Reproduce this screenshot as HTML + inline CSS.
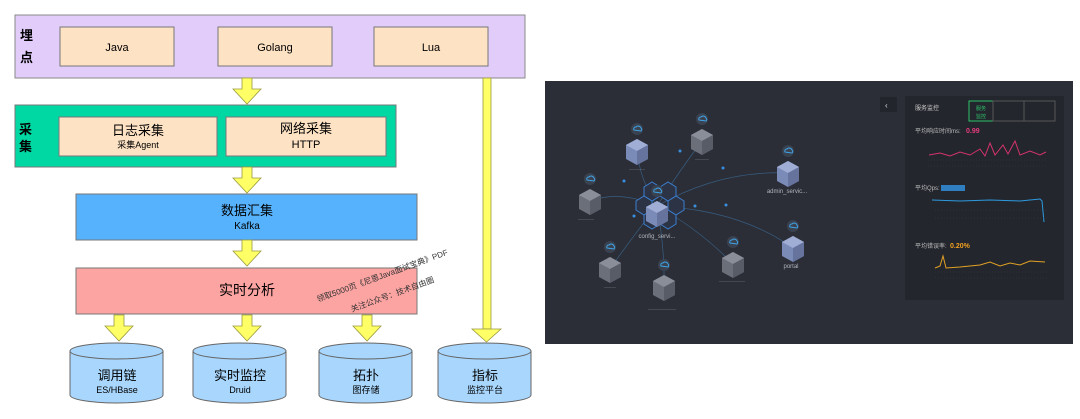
<!DOCTYPE html>
<html><head><meta charset="utf-8"><style>
body{margin:0;width:1080px;height:414px;background:#fff;overflow:hidden;font-family:"Liberation Sans","Noto Sans CJK SC",sans-serif;}
</style></head><body>
<svg width="1080" height="414" xmlns="http://www.w3.org/2000/svg" font-family="Liberation Sans, Noto Sans CJK SC, sans-serif">
<defs>
<g id="arr"><polygon points="-5,0 5,0 5,11 14,11 0,26 -14,11 -5,11" fill="#ffff66" stroke="#9a9a40" stroke-width="0.8"/></g>
<g id="cube"><polygon points="0,-12 11,-6 11,8 0,14 -11,8 -11,-6" fill="#6b6f7a"/><polygon points="0,-12 11,-6 0,0 -11,-6" fill="#8a8e99"/><polygon points="0,0 11,-6 11,8 0,14" fill="#585c66"/><circle cx="0" cy="-22" r="6" fill="#3a4250"/><path d="M-3,-21 a2,2 0 0 1 2,-3 a3,3 0 0 1 5,1 a2,2 0 0 1 0,3 z" fill="none" stroke="#3fa3e6" stroke-width="1"/></g>
<g id="bcube"><polygon points="0,-12 11,-6 11,8 0,14 -11,8 -11,-6" fill="#7b8bb8"/><polygon points="0,-12 11,-6 0,0 -11,-6" fill="#a0aed6"/><polygon points="0,0 11,-6 11,8 0,14" fill="#66739c"/><circle cx="0" cy="-22" r="6" fill="#3a4250"/><path d="M-3,-21 a2,2 0 0 1 2,-3 a3,3 0 0 1 5,1 a2,2 0 0 1 0,3 z" fill="none" stroke="#3fa3e6" stroke-width="1"/></g>
</defs>
<!-- purple -->
<rect x="15" y="15" width="510" height="63" fill="#e2cdfa" stroke="#8a8a8a"/>
<text x="20" y="40" font-size="13" font-weight="bold">埋</text>
<text x="20" y="62" font-size="13" font-weight="bold">点</text>
<rect x="60" y="27" width="114" height="39" fill="#fde2c4" stroke="#777"/>
<rect x="218" y="27" width="114" height="39" fill="#fde2c4" stroke="#777"/>
<rect x="374" y="27" width="114" height="39" fill="#fde2c4" stroke="#777"/>
<text x="117" y="51" font-size="11" text-anchor="middle">Java</text>
<text x="275" y="51" font-size="11" text-anchor="middle">Golang</text>
<text x="431" y="51" font-size="11" text-anchor="middle">Lua</text>
<!-- yellow long line -->
<rect x="483" y="78" width="8" height="251" fill="#ffff66" stroke="#9a9a40" stroke-width="0.8"/>
<polygon points="472,329 501,329 486.5,342" fill="#ffff66" stroke="#9a9a40" stroke-width="0.8"/>
<use href="#arr" x="247" y="78"/>
<!-- green -->
<rect x="15" y="105" width="381" height="62" fill="#00d8a4" stroke="#777"/>
<text x="19" y="134" font-size="13" font-weight="bold">采</text>
<text x="19" y="151" font-size="13" font-weight="bold">集</text>
<rect x="59" y="117" width="158" height="39" fill="#fde2c4" stroke="#777"/>
<rect x="226" y="117" width="160" height="39" fill="#fde2c4" stroke="#777"/>
<text x="138" y="135" font-size="13" text-anchor="middle">日志采集</text>
<text x="138" y="148" font-size="9" text-anchor="middle">采集Agent</text>
<text x="306" y="133" font-size="13" text-anchor="middle">网络采集</text>
<text x="306" y="148" font-size="11" text-anchor="middle">HTTP</text>
<use href="#arr" x="247" y="167"/>
<!-- blue -->
<rect x="76" y="194" width="341" height="46" fill="#56b2fc" stroke="#777"/>
<text x="247" y="215" font-size="13" text-anchor="middle">数据汇集</text>
<text x="247" y="229" font-size="10" text-anchor="middle">Kafka</text>
<use href="#arr" x="247" y="240"/>
<!-- red -->
<rect x="76" y="268" width="341" height="46" fill="#fca4a2" stroke="#777"/>
<text x="247" y="295" font-size="14" text-anchor="middle">实时分析</text>
<text x="318" y="302" font-size="8" fill="#333" transform="rotate(-20 318 302)">领取5000页《尼恩Java面试宝典》PDF</text>
<text x="352" y="312" font-size="8" fill="#333" transform="rotate(-20 352 312)">关注公众号：技术自由圈</text>
<use href="#arr" x="119" y="315"/>
<use href="#arr" x="247" y="315"/>
<use href="#arr" x="367" y="315"/>
<!-- cylinders -->
<g fill="#a8d6fd" stroke="#666">
<path d="M70,351 v44 a46.5,8 0 0 0 93,0 v-44"/><ellipse cx="116.5" cy="351" rx="46.5" ry="8"/>
<path d="M193,351 v44 a46.5,8 0 0 0 93,0 v-44"/><ellipse cx="239.5" cy="351" rx="46.5" ry="8"/>
<path d="M319,351 v44 a46.5,8 0 0 0 93,0 v-44"/><ellipse cx="365.5" cy="351" rx="46.5" ry="8"/>
<path d="M438,351 v44 a46.5,8 0 0 0 93,0 v-44"/><ellipse cx="484.5" cy="351" rx="46.5" ry="8"/>
</g>
<g text-anchor="middle">
<text x="117" y="380" font-size="13">调用链</text><text x="117" y="393" font-size="9">ES/HBase</text>
<text x="240" y="380" font-size="13">实时监控</text><text x="240" y="393" font-size="9">Druid</text>
<text x="366" y="380" font-size="13">拓扑</text><text x="366" y="393" font-size="9">图存储</text>
<text x="485" y="380" font-size="13">指标</text><text x="485" y="393" font-size="9">监控平台</text>
</g>
<!-- right screenshot -->
<rect x="545" y="81" width="528" height="263" fill="#2b2e37"/>
<g stroke="#3b6a95" stroke-width="0.7" fill="none" opacity="0.8">
<path d="M657,206 Q640,180 637,151"/><path d="M657,206 Q680,170 702,141"/><path d="M657,206 Q720,170 788,173"/>
<path d="M657,206 Q620,190 590,201"/><path d="M657,206 Q630,240 610,269"/><path d="M657,206 Q665,250 664,287"/>
<path d="M657,206 Q700,230 733,264"/><path d="M657,206 Q740,210 793,248"/>
</g>
<g fill="#3a8ee0"><circle cx="680" cy="151" r="1.5"/><circle cx="723" cy="168" r="1.5"/><circle cx="624" cy="181" r="1.5"/><circle cx="634" cy="216" r="1.5"/><circle cx="695" cy="206" r="1.5"/><circle cx="726" cy="205" r="1.5"/></g>
<g stroke="#3c7ed0" stroke-width="1" fill="#2b3344">
<polygon points="644,187 652,182 660,187 660,196 652,201 644,196"/>
<polygon points="660,187 668,182 676,187 676,196 668,201 660,196"/>
<polygon points="636,201 644,196 652,201 652,210 644,215 636,210"/>
<polygon points="668,201 676,196 684,201 684,210 676,215 668,210"/>
<polygon points="644,215 652,210 660,215 660,224 652,229 644,224"/>
<polygon points="660,215 668,210 676,215 676,224 668,229 660,224"/>
</g>
<use href="#bcube" x="657" y="213"/>
<use href="#bcube" x="637" y="151"/>
<use href="#cube" x="702" y="141"/>
<use href="#bcube" x="788" y="173"/>
<use href="#cube" x="590" y="201"/>
<use href="#cube" x="610" y="269"/>
<use href="#cube" x="664" y="287"/>
<use href="#cube" x="733" y="264"/>
<use href="#bcube" x="793" y="248"/>
<g fill="#b0b4bc" font-size="6" text-anchor="middle">
<text x="637" y="171">········</text><text x="702" y="161">·······</text><text x="787" y="193">admin_servic...</text>
<text x="586" y="221">········</text><text x="657" y="238">config_servi...</text><text x="610" y="289">······</text>
<text x="662" y="311">··············</text><text x="732" y="283">·············</text><text x="791" y="268">portal</text>
</g>
<rect x="880" y="97" width="17" height="15" fill="#22252c"/>
<text x="885" y="108" font-size="8" fill="#ddd">‹</text>
<rect x="905" y="96" width="159" height="204" fill="#23262d"/>
<text x="915" y="110" font-size="6" fill="#ccc">服务监控</text>
<rect x="969" y="101" width="24" height="20" fill="none" stroke="#2ec46b"/>
<rect x="993" y="101" width="31" height="20" fill="none" stroke="#555"/>
<rect x="1024" y="101" width="31" height="20" fill="none" stroke="#555"/>
<text x="981" y="110" font-size="5" fill="#2ec46b" text-anchor="middle">服务</text><text x="981" y="118" font-size="5" fill="#2ec46b" text-anchor="middle">监控</text>
<text x="915" y="133" font-size="6" fill="#bbb">平均响应时间ms:</text><text x="966" y="133" font-size="7" fill="#e23c7c" font-weight="bold">0.99</text>
<polyline points="929,155 940,153 950,156 960,152 970,155 980,149 985,156 990,143 995,155 1003,145 1008,154 1015,141 1020,155 1030,151 1040,155 1046,152" fill="none" stroke="#d6336d" stroke-width="1"/>
<text x="915" y="190" font-size="6" fill="#bbb">平均Qps:</text><rect x="941" y="185" width="24" height="6" fill="#2f7fc0"/>
<polyline points="932,200 960,201 990,200 1020,201 1040,199 1042,201 1044,222" fill="none" stroke="#2d9ae0" stroke-width="1"/>
<text x="915" y="248" font-size="6" fill="#bbb">平均错误率:</text><text x="950" y="248" font-size="7" fill="#f0a020" font-weight="bold">0.20%</text>
<polyline points="935,268 940,266 943,256 946,268 960,267 980,265 990,262 1000,266 1010,263 1020,265 1030,261 1045,262" fill="none" stroke="#e3a124" stroke-width="1"/>
<g stroke="#3a3d45" stroke-dasharray="1,2" stroke-width="0.6"><line x1="928" y1="160" x2="1048" y2="160"/><line x1="928" y1="166" x2="1048" y2="166"/><line x1="935" y1="210" x2="1048" y2="210"/><line x1="935" y1="218" x2="1048" y2="218"/><line x1="935" y1="272" x2="1048" y2="272"/><line x1="935" y1="278" x2="1048" y2="278"/></g>
</svg>
</body></html>
